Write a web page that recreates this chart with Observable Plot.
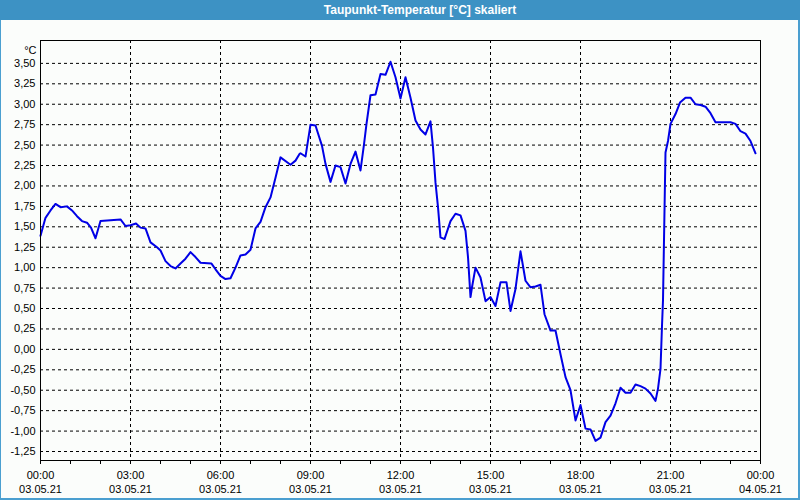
<!DOCTYPE html>
<html>
<head>
<meta charset="utf-8">
<script src="https://cdn.jsdelivr.net/npm/d3@7"></script>
<script src="https://cdn.jsdelivr.net/npm/@observablehq/plot@0.6"></script>
<style>
  html, body { margin: 0; padding: 0; background: #fbfdfb; }
  #page { position: relative; width: 800px; height: 500px; overflow: hidden; background: #fbfdfb; }
  #title { position: absolute; left: 0; top: 0; width: 760px; height: 20px; padding-left: 40px;
           background: #3d92c4; color: #ffffff; font: bold 12px "Liberation Sans", Arial, sans-serif;
           line-height: 20px; text-align: center; }
  #chart { position: absolute; left: 0; top: 20px; }
  .bl { position: absolute; background: #4a9fd0; }
</style>
</head>
<body>
<div id="page">
  <div id="title">Taupunkt-Temperatur [°C] skaliert</div>
  <div id="chart"></div>
  <div class="bl" style="left:0;top:20px;width:1px;height:480px"></div>
  <div class="bl" style="right:0;top:20px;width:2px;height:480px"></div>
  <div class="bl" style="left:0;bottom:0;width:800px;height:2px"></div>
</div>
<script>
// Minutes since 00:00 on 03.05.21
const minutes = [0,10,20,30,40,53,63,73,83,93,101,110,120,140,160,170,180,191,200,210,
  220,233,240,250,260,270,280,290,300,310,320,342,350,360,370,380,390,400,410,420,
  430,440,450,460,470,480,500,510,518,520,530,540,550,563,570,580,590,600,610,620,
  630,640,647,652,660,670,680,690,700,710,720,730,740,750,760,770,780,785,790,795,
  800,808,820,830,840,850,855,860,863,870,880,890,900,910,920,932,940,950,960,970,
  980,990,1000,1008,1020,1030,1040,1050,1060,1070,1080,1090,1100,1110,1120,1130,1140,1150,1160,1170,
  1180,1190,1200,1210,1220,1230,1235,1240,1243,1245,1249,1250,1255,1260,1270,1279,1290,1300,1310,1320,
  1330,1340,1350,1360,1380,1390,1400,1410,1420,1430];
// Dew point temperature [°C]
const values = [1.39,1.61,1.70,1.78,1.74,1.75,1.70,1.63,1.57,1.55,1.49,1.36,1.57,1.58,1.59,1.51,1.52,1.54,1.49,1.48,
  1.31,1.25,1.21,1.08,1.02,0.99,1.05,1.11,1.19,1.13,1.06,1.05,0.98,0.90,0.86,0.87,1.00,1.15,1.16,1.22,
  1.48,1.56,1.74,1.86,2.10,2.35,2.26,2.31,2.39,2.40,2.36,2.75,2.74,2.49,2.27,2.05,2.25,2.23,2.03,2.27,
  2.42,2.19,2.51,2.76,3.11,3.12,3.37,3.36,3.52,3.33,3.07,3.33,3.08,2.80,2.69,2.63,2.79,2.47,2.04,1.74,
  1.37,1.35,1.57,1.66,1.64,1.45,1.13,0.64,0.76,1.00,0.88,0.59,0.64,0.53,0.82,0.82,0.47,0.74,1.20,0.84,
  0.76,0.77,0.79,0.43,0.23,0.23,-0.06,-0.34,-0.50,-0.87,-0.68,-0.97,-0.98,-1.12,-1.08,-0.89,-0.81,-0.66,-0.47,-0.53,
  -0.53,-0.43,-0.45,-0.48,-0.54,-0.63,-0.48,-0.24,0.29,0.60,2.06,2.41,2.55,2.76,2.88,3.02,3.08,3.08,3.00,2.99,
  2.97,2.89,2.78,2.78,2.78,2.76,2.67,2.64,2.55,2.40];
const yTicks = [-1.25,-1.00,-0.75,-0.50,-0.25,0.00,0.25,0.50,0.75,1.00,1.25,1.50,1.75,2.00,2.25,2.50,2.75,3.00,3.25,3.50];
const majorHours = [0,3,6,9,12,15,18,21,24];
const minorHours = d3.range(0, 25);
const unitLabel = "°C";

const t0 = Date.UTC(2021, 4, 3, 0, 0);
const toDate = m => new Date(t0 + m * 60000);
const data = minutes.map((m, i) => ({t: toDate(m), v: values[i]}));
const majorTicks = majorHours.map(h => toDate(h * 60));
const minorTicks = minorHours.map(h => toDate(h * 60));
const fmtTime = d3.utcFormat("%H:%M");
const fmtDate = d3.utcFormat("%d.%m.%y");
const fmtY = v => d3.format(".2f")(v).replace(".", ",").replace("\u2212", "-");

const chart = Plot.plot({
  width: 800,
  height: 480,
  marginLeft: 40,
  marginRight: 40,
  marginTop: 20,
  marginBottom: 40,
  style: {background: "transparent", fontFamily: "'Liberation Sans', Arial, sans-serif", fontSize: "11px", color: "#000"},
  x: {type: "utc", domain: [toDate(0), toDate(1440)]},
  y: {domain: [-1.36, 3.78]},
  marks: [
    Plot.gridY(yTicks, {stroke: "#000", strokeOpacity: 1, strokeDasharray: "3,3"}),
    Plot.gridX(majorTicks.slice(1, -1), {stroke: "#000", strokeOpacity: 1, strokeDasharray: "3,3"}),
    Plot.axisY(yTicks, {tickSize: 0, tickPadding: 5, tickFormat: fmtY, label: null}),
    Plot.axisX(minorTicks, {tickSize: 4, tickFormat: () => "", label: null}),
    Plot.axisX(majorTicks, {tickSize: 0, tickPadding: 11, tickFormat: fmtTime, label: null}),
    Plot.axisX(majorTicks, {tickSize: 0, tickPadding: 25, tickFormat: fmtDate, label: null}),
    Plot.text([unitLabel], {frameAnchor: "top-left", dx: -4, dy: 6, textAnchor: "end", fontSize: 11}),
    Plot.line(data, {x: "t", y: "v", stroke: "#0000e6", strokeWidth: 2}),
    Plot.frame({stroke: "#000"})
  ]
});
document.getElementById("chart").appendChild(chart);
</script>
</body>
</html>
